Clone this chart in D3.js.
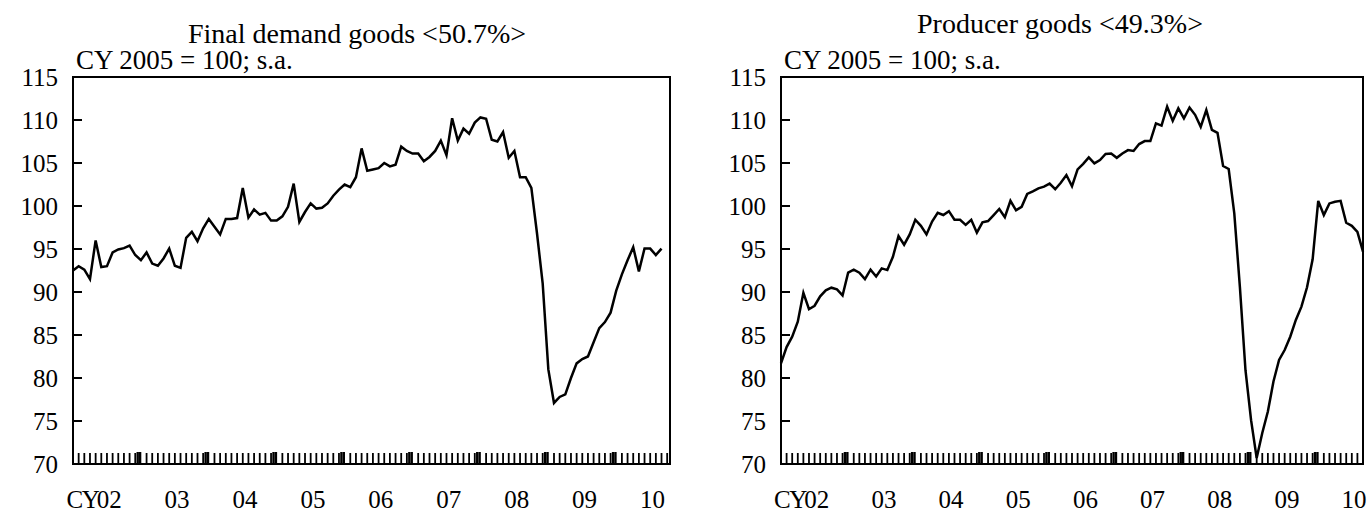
<!DOCTYPE html>
<html>
<head>
<meta charset="utf-8">
<script src="https://cdn.jsdelivr.net/npm/d3@7"></script>
<style>
  body { margin: 0; background: #fff; }
  text { font-family: "Times New Roman", "Liberation Serif", serif; fill: #000; }
</style>
</head>
<body>
<svg id="chart" width="1367" height="514"></svg>
<script>
// Monthly index, CY 2005 = 100, s.a. (Jan 2002 .. Sep 2010)
const finalDemand = [
  92.5, 93.0, 92.6, 91.5, 96.0, 92.9, 93.0, 94.6, 94.95, 95.1, 95.4, 94.3,
  93.7, 94.6, 93.3, 93.05, 93.9, 95.05, 93.05, 92.8, 96.3, 97.0, 95.9, 97.4,
  98.5, 97.6, 96.7, 98.5, 98.5, 98.6, 102.1, 98.65, 99.6, 99.0, 99.2, 98.3,
  98.3, 98.8, 99.9, 102.6, 98.15, 99.3, 100.3, 99.7, 99.8, 100.3, 101.2, 101.9,
  102.5, 102.2, 103.35, 106.7, 104.1, 104.25, 104.4, 105.0, 104.6, 104.8, 106.9, 106.4,
  106.1, 106.1, 105.2, 105.7, 106.4, 107.6, 105.9, 110.2, 107.6, 109.0, 108.4, 109.7,
  110.3, 110.15, 107.7, 107.5, 108.6, 105.6, 106.4, 103.35, 103.35, 102.1, 96.8, 91.0,
  81.0, 77.1, 77.8, 78.1, 80.0, 81.7, 82.2, 82.5, 84.15, 85.8, 86.5, 87.6,
  90.15, 92.05, 93.7, 95.2, 92.4, 95.05, 95.05, 94.3, 95.05
];
const producerGoods = [
  81.7, 83.6, 84.8, 86.55, 89.9, 88.0, 88.4, 89.5, 90.2, 90.5, 90.3, 89.6,
  92.25, 92.6, 92.25, 91.5, 92.6, 91.8, 92.75, 92.55, 94.1, 96.5, 95.5, 96.7,
  98.4, 97.7, 96.7, 98.2, 99.2, 98.95, 99.4, 98.4, 98.4, 97.8, 98.4, 96.9,
  98.1, 98.25, 98.95, 99.65, 98.7, 100.6, 99.5, 99.9, 101.4, 101.7, 102.05, 102.25,
  102.6, 101.95, 102.7, 103.6, 102.3, 104.25, 104.9, 105.65, 104.95, 105.35, 106.05, 106.1,
  105.6, 106.1, 106.5, 106.4, 107.2, 107.55, 107.55, 109.6, 109.35, 111.55, 109.9, 111.35,
  110.2, 111.45, 110.6, 109.2, 111.15, 108.85, 108.5, 104.65, 104.3, 99.15, 90.6, 80.9,
  75.1, 70.7, 73.6, 76.1, 79.6, 82.1, 83.25, 84.8, 86.75, 88.3, 90.55, 93.8,
  100.6, 98.95, 100.3, 100.5, 100.6, 98.05, 97.7, 97.0, 94.7
];
const yearLabels = ["02", "03", "04", "05", "06", "07", "08", "09", "10"];
const yTicks = [70, 75, 80, 85, 90, 95, 100, 105, 110, 115];

const svg = d3.select("#chart");

function drawPanel(opts) {
  const { values, title, left, right, top, bottom, xMax, titleX, titleY, tickX } = opts;

  const x = d3.scaleLinear().domain([0, xMax]).range([left, right]);
  const y = d3.scaleLinear().domain([70, 115]).range([bottom, top]);

  const g = svg.append("g");

  // titles
  g.append("text")
    .attr("x", titleX)
    .attr("y", titleY)
    .attr("text-anchor", "middle")
    .style("font-size", "28px")
    .text(title);

  g.append("text")
    .attr("x", left + 3)
    .attr("y", top - 8)
    .style("font-size", "27px")
    .text("CY 2005 = 100; s.a.");

  // y ticks (inside) and labels
  g.selectAll(".ytick")
    .data(yTicks.filter(d => d > 70 && d < 115))
    .enter()
    .append("line")
    .attr("x1", left)
    .attr("x2", left + 9)
    .attr("y1", d => y(d))
    .attr("y2", d => y(d))
    .attr("stroke", "#000")
    .attr("stroke-width", 2);

  g.selectAll(".ylab")
    .data(yTicks)
    .enter()
    .append("text")
    .attr("x", tickX)
    .attr("y", d => y(d))
    .attr("dy", "0.35em")
    .attr("text-anchor", "end")
    .style("font-size", "25px")
    .text(d => d);

  // month ticks along the bottom
  const months = d3.range(0, Math.floor(xMax) + 1);
  g.selectAll(".mtick")
    .data(months.filter(m => m % 12 !== 0))
    .enter()
    .append("line")
    .attr("x1", d => x(d))
    .attr("x2", d => x(d))
    .attr("y1", bottom)
    .attr("y2", bottom - 11)
    .attr("stroke", "#000")
    .attr("stroke-width", 1.8);

  // year boundaries: heavier double ticks
  const years = months.filter(m => m % 12 === 0 && m > 0);
  [-1.2, 1.2].forEach(off => {
    g.selectAll(null)
      .data(years)
      .enter()
      .append("line")
      .attr("x1", d => x(d) + off - 2)
      .attr("x2", d => x(d) + off - 2)
      .attr("y1", bottom)
      .attr("y2", bottom - 12)
      .attr("stroke", "#000")
      .attr("stroke-width", 2.4);
  });

  // year labels
  g.selectAll(".xlab")
    .data(yearLabels)
    .enter()
    .append("text")
    .attr("x", (d, i) => x(i * 12 + 6.4))
    .attr("y", bottom + 44)
    .attr("text-anchor", "middle")
    .style("font-size", "25px")
    .text(d => d);

  g.append("text")
    .attr("x", x(6.4) - 11)
    .attr("y", bottom + 44)
    .attr("text-anchor", "end")
    .attr("letter-spacing", "-1.5")
    .style("font-size", "25px")
    .text("CY");

  // series
  const line = d3.line()
    .x((d, i) => x(i))
    .y(d => y(d));

  g.append("path")
    .datum(values)
    .attr("d", line)
    .attr("fill", "none")
    .attr("stroke", "#000")
    .attr("stroke-width", 2.5)
    .attr("stroke-linejoin", "miter");

  // frame
  g.append("rect")
    .attr("x", left)
    .attr("y", top)
    .attr("width", right - left)
    .attr("height", bottom - top)
    .attr("fill", "none")
    .attr("stroke", "#000")
    .attr("stroke-width", 2);
}

drawPanel({
  values: finalDemand,
  title: "Final demand goods <50.7%>",
  left: 73, right: 670, top: 77, bottom: 464,
  xMax: 105.5, titleX: 357, titleY: 43, tickX: 58
});

drawPanel({
  values: producerGoods,
  title: "Producer goods <49.3%>",
  left: 781, right: 1363, top: 77, bottom: 464,
  xMax: 104, titleX: 1060, titleY: 33, tickX: 766
});
</script>
</body>
</html>
